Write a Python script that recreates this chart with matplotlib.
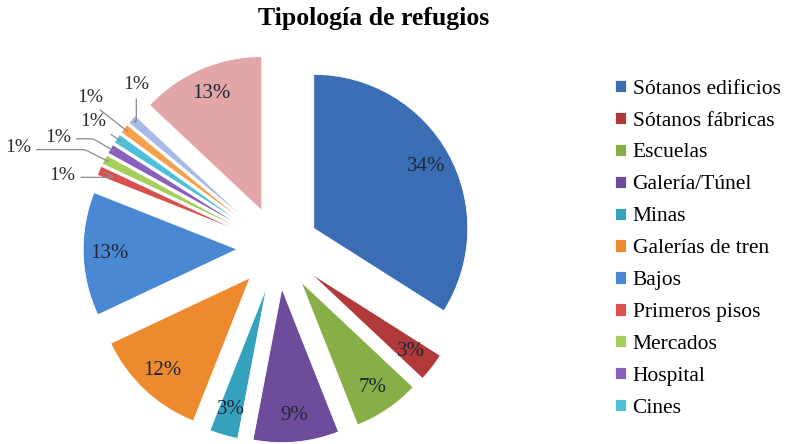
import matplotlib.pyplot as plt
import numpy as np

# Data (clockwise from 12 o'clock)
legend_labels = ['Sótanos edificios', 'Sótanos fábricas', 'Escuelas', 'Galería/Túnel',
                 'Minas', 'Galerías de tren', 'Bajos', 'Primeros pisos', 'Mercados',
                 'Hospital', 'Cines']
values = [34, 3, 7, 9, 3, 12, 13, 1, 1, 1, 1, 1, 1, 13]
colors = ['#3A6DB3', '#B2393A', '#88AE47', '#6D4C9C', '#35A2BD', '#EE8A2E',
          '#4A88D4', '#D9504E', '#A5CF5A', '#8A60BE', '#4EC0DC', '#F6A04C',
          '#AABAE6', '#E2A6A8']

serif = ['Liberation Serif', 'DejaVu Serif']
plt.rcParams['font.family'] = serif

fig = plt.figure(figsize=(7.9, 4.44), dpi=100)
ax = fig.add_axes([0, 0, 1, 1])

explode = [0.265] * len(values)
wedges, texts = ax.pie(values, colors=colors, startangle=90, counterclock=False,
                       explode=explode, radius=1.0,
                       wedgeprops=dict(edgecolor='white', linewidth=0.6))

# percentage labels: inside for big slices, outside with leader lines for 1% ones
small_text_pos = [(-1.40, 0.47), (-1.69, 0.65), (-1.43, 0.72),
                  (-1.20, 0.82), (-1.22, 0.98), (-0.92, 1.06)]
k = 0
for w, v in zip(wedges, values):
    mid = (w.theta1 + w.theta2) / 2
    ang = np.deg2rad(mid)
    cx, cy = w.center
    pct = f'{v}%'
    if v > 1:
        ax.text(cx + 0.83 * np.cos(ang), cy + 0.83 * np.sin(ang), pct,
                ha='center', va='center', fontsize=15, color='#1B2838')
    else:
        tx, ty = small_text_pos[k]
        k += 1
        last = k == 6
        ax.annotate(pct, xy=(cx + 0.97 * np.cos(ang), cy + 0.97 * np.sin(ang)),
                    xytext=(tx, ty), ha='center', va='center', fontsize=14,
                    color='#2E2E2E',
                    arrowprops=dict(arrowstyle='-', color='#8A8A8A', lw=0.9,
                                    shrinkA=2, shrinkB=0,
                                    relpos=(0.5, 0.0) if last else (1.0, 0.4),
                                    connectionstyle=f'angle,angleA={90 if last else 0},'
                                                    f'angleB={mid % 180:.1f},rad=3'))

# place pie centre at pixel (278, 248) with radius 154 px
r_px = 154
ax.set_xlim(-278 / r_px, (790 - 278) / r_px)
ax.set_ylim((248 - 444) / r_px, 248 / r_px)
ax.set_aspect('equal')
ax.axis('off')

fig.text(0.473, 0.958, 'Tipología de refugios', ha='center', va='center',
         fontsize=18.5, fontweight='bold', family=serif)

fig.legend(wedges[:len(legend_labels)], legend_labels, loc='upper left',
           bbox_to_anchor=(0.768, 0.84), frameon=False,
           prop={'family': serif, 'size': 15.5},
           handlelength=0.5, handleheight=0.5, handletextpad=0.3,
           labelspacing=0.6, borderaxespad=0)

fig.savefig('out.png', dpi=100)
